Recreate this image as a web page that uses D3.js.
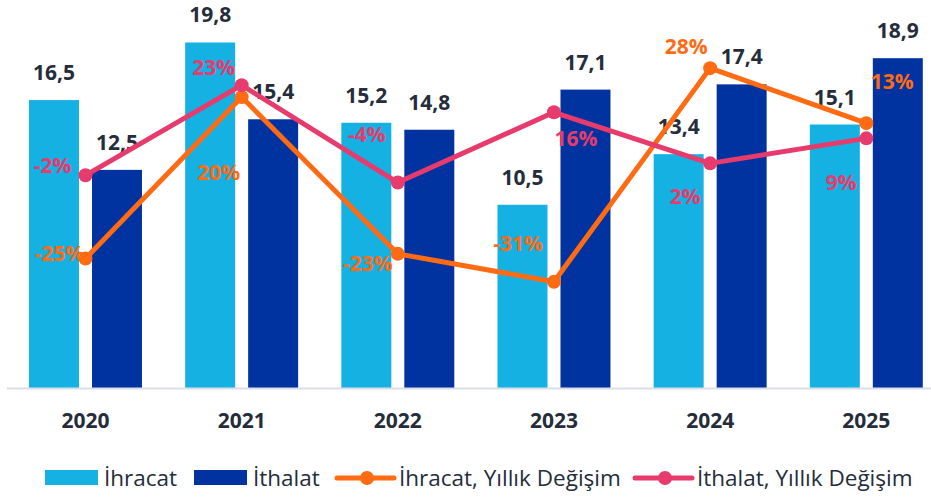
<!DOCTYPE html>
<html>
<head>
<meta charset="utf-8">
<script src="https://cdn.jsdelivr.net/npm/d3@7/dist/d3.min.js"></script>
<style>
  html, body { margin: 0; padding: 0; background: #fff; }
  svg { display: block; font-family: "Open Sans", sans-serif; }
</style>
</head>
<body>
<div id="chart"></div>
<script>
const years = ["2020", "2021", "2022", "2023", "2024", "2025"];
const ihracat = [16.5, 19.8, 15.2, 10.5, 13.4, 15.1];
const ithalat = [12.5, 15.4, 14.8, 17.1, 17.4, 18.9];
const ihracatChange = [-24.6, 20.0, -23.3, -31.0, 28.0, 12.8];
const ithalatChange = [-1.6, 23.3, -3.6, 15.8, 1.7, 8.6];

const width = 931;
const height = 498;
const baseY = 388;
const textColor = "#252D3B";
const colors = { ihracat: "#15B1E3", ithalat: "#0033A0", exChg: "#FF6B13", imChg: "#E63B6C" };

// label offsets from the point (label centre), as placed in the original
const exLabelPos = [[-26, -5], [-23, 75], [-30, 10], [-36, -38], [-24, -22], [26, -42]];
const imLabelPos = [[-33, -10], [-28, -18], [-31, -48], [22, 26], [-25, 33], [-25, 44]];

const svg = d3.select("#chart").append("svg")
  .attr("width", width)
  .attr("height", height);

const x0 = d3.scaleBand()
  .domain(years)
  .range([7.4, 944.4])
  .paddingInner(0.2766)
  .paddingOuter(0.1383);

const x1 = d3.scaleBand()
  .domain(["ihracat", "ithalat"])
  .range([0, x0.bandwidth()])
  .paddingInner(13 / 63);

const y = d3.scaleLinear().domain([0, 22]).range([baseY, baseY - 22 * 17.45]);
const yPct = d3.scaleLinear().domain([-60, 40]).range([169.5 + 60 * 3.62, 169.5 - 40 * 3.62]);

const cx = d => x0(d) + x0.bandwidth() / 2;

const rows = years.map((yr, i) => ({ year: yr, ihracat: ihracat[i], ithalat: ithalat[i] }));

// bars
const groups = svg.append("g").selectAll("g")
  .data(rows)
  .join("g")
  .attr("transform", d => `translate(${x0(d.year)},0)`);

groups.selectAll("rect")
  .data(d => ["ihracat", "ithalat"].map(k => ({ key: k, value: d[k] })))
  .join("rect")
  .attr("x", d => x1(d.key))
  .attr("width", x1.bandwidth())
  .attr("y", d => y(d.value))
  .attr("height", d => baseY - y(d.value))
  .attr("fill", d => colors[d.key]);

// axis line
svg.append("line")
  .attr("x1", 7).attr("x2", width)
  .attr("y1", baseY + 0.5).attr("y2", baseY + 0.5)
  .attr("stroke", "#D9DEE7")
  .attr("stroke-width", 2);

// year labels
const xAxis = svg.append("g")
  .attr("transform", `translate(0,${baseY})`)
  .call(d3.axisBottom(x0).tickSize(0).tickPadding(0));
xAxis.select(".domain").remove();
xAxis.selectAll("text")
  .attr("y", 40)
  .attr("dy", 0)
  .attr("fill", textColor)
  .style("font-family", "'Open Sans', sans-serif")
  .style("font-size", "21px")
  .style("font-weight", 700);

// value labels
groups.selectAll("text.val")
  .data(d => ["ihracat", "ithalat"].map(k => ({ key: k, value: d[k] })))
  .join("text")
  .attr("class", "val")
  .attr("x", d => x1(d.key) + x1.bandwidth() / 2)
  .attr("y", d => y(d.value) - 20)
  .attr("text-anchor", "middle")
  .attr("fill", textColor)
  .style("font-size", "21px")
  .style("font-weight", 700)
  .text(d => d3.format(".1f")(d.value).replace(".", ","));

// change lines
const pctLine = d3.line().x((d, i) => cx(years[i])).y(d => yPct(d));

function drawSeries(values, color) {
  svg.append("path")
    .datum(values)
    .attr("d", pctLine)
    .attr("fill", "none")
    .attr("stroke", color)
    .attr("stroke-width", 5)
    .attr("stroke-linejoin", "round");
  svg.append("g").selectAll("circle")
    .data(values)
    .join("circle")
    .attr("cx", (d, i) => cx(years[i]))
    .attr("cy", d => yPct(d))
    .attr("r", 7)
    .attr("fill", color);
}
drawSeries(ihracatChange, colors.exChg);
drawSeries(ithalatChange, colors.imChg);

function drawPctLabels(values, pos, color) {
  svg.append("g").selectAll("text")
    .data(values)
    .join("text")
    .attr("x", (d, i) => cx(years[i]) + pos[i][0])
    .attr("y", (d, i) => yPct(d) + pos[i][1])
    .attr("dy", "0.36em")
    .attr("text-anchor", "middle")
    .attr("fill", color)
    .style("font-size", "21px")
    .style("font-weight", 700)
    .text(d => Math.round(d) + "%");
}
drawPctLabels(ihracatChange, exLabelPos, colors.exChg);
drawPctLabels(ithalatChange, imLabelPos, colors.imChg);

// legend
const legendItems = [
  { name: "İhracat", type: "rect", color: colors.ihracat, x: 45 },
  { name: "İthalat", type: "rect", color: colors.ithalat, x: 194 },
  { name: "İhracat, Yıllık Değişim", type: "line", color: colors.exChg, x: 337 },
  { name: "İthalat, Yıllık Değişim", type: "line", color: colors.imChg, x: 635 }
];
const legendY = 478;
const legend = svg.append("g").selectAll("g")
  .data(legendItems)
  .join("g")
  .attr("transform", d => `translate(${d.x},${legendY})`);

legend.filter(d => d.type === "rect").append("rect")
  .attr("y", -8).attr("width", 53).attr("height", 15)
  .attr("fill", d => d.color);
legend.filter(d => d.type === "line").append("line")
  .attr("x1", 0).attr("x2", 57).attr("y1", 0).attr("y2", 0)
  .attr("stroke", d => d.color).attr("stroke-width", 5).attr("stroke-linecap", "round");
legend.filter(d => d.type === "line").append("circle")
  .attr("cx", 30).attr("r", 7).attr("fill", d => d.color);

legend.append("text")
  .attr("x", d => d.type === "rect" ? 59 : 62)
  .attr("y", 8)
  .attr("fill", textColor)
  .style("font-size", "22.5px")
  .style("font-weight", 500)
  .text(d => d.name);
</script>
</body>
</html>
